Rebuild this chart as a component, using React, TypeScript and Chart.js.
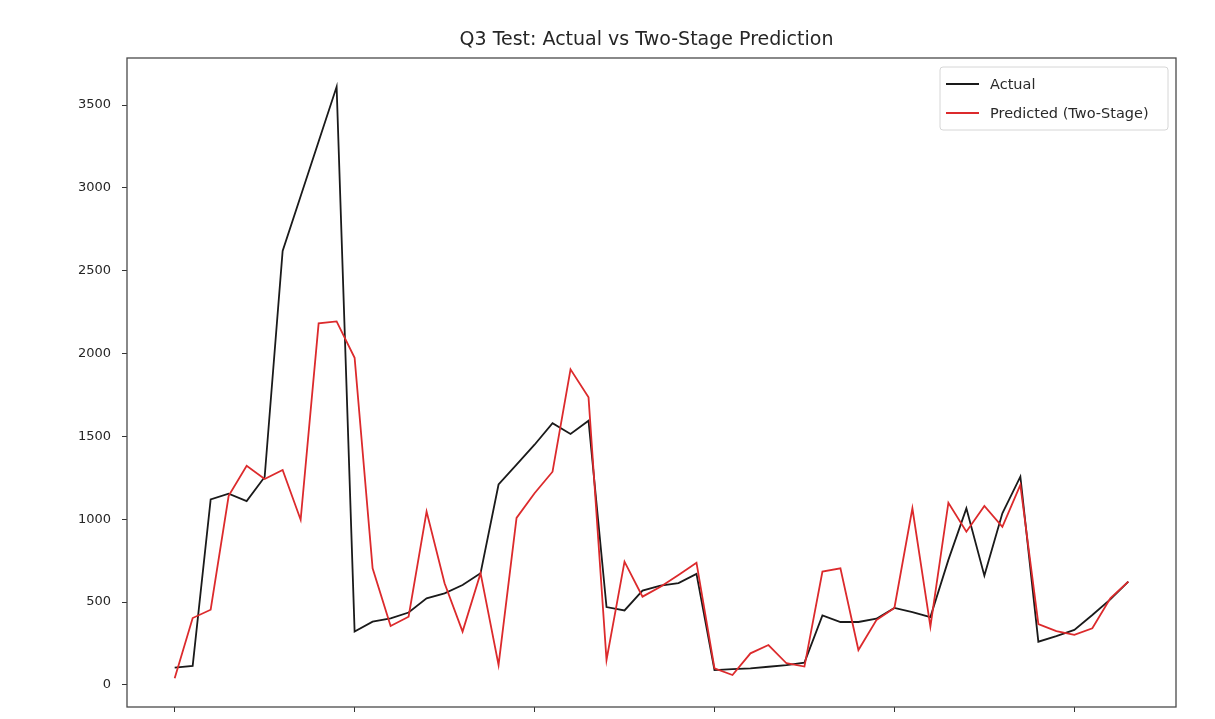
import React, { useEffect, useRef } from "react";
import { Chart, registerables } from "chart.js";

Chart.register(...registerables);

const TITLE = "Q3 Test: Actual vs Two-Stage Prediction";
const SERIES_NAMES = ["Actual", "Predicted (Two-Stage)"];

const indices = [
  0, 1, 2, 3, 4, 5, 6, 7, 8, 9, 10, 11, 12, 13, 14, 15, 16, 17, 18, 19, 20, 21, 22, 23, 24, 25, 26,
  27, 28, 29, 30, 31, 32, 33, 34, 35, 36, 37, 38, 39, 40, 41, 42, 43, 44, 45, 46, 47, 48, 49, 50, 51,
  52, 53,
];

const actual = [
  105, 115, 1120, 1155, 1110, 1255, 2620, 2950, 3280, 3610,
  322, 382, 402, 437, 523, 553, 603, 674, 1210, 1330,
  1450, 1580, 1515, 1595, 470, 450, 570, 600, 615, 670,
  90, 95, 100, 110, 120, 135, 420, 380, 380, 400,
  465, 440, 410, 755, 1066, 660, 1036, 1257, 261, 295,
  332, 422, 517, 624,
];

const predicted = [
  40, 404, 454, 1142, 1323, 1243, 1297, 997, 2182, 2194,
  1975, 704, 356, 412, 1046, 614, 322, 675, 121, 1008,
  1157, 1287, 1905, 1736, 151, 744, 533, 593, 664, 738,
  101, 60, 191, 241, 131, 111, 684, 704, 211, 392,
  465, 1066, 352, 1100, 925, 1080, 955, 1207, 368, 325,
  302, 342, 523, 624,
];

const xTicks = [0, 10, 20, 30, 40, 50];
const yTicks = [0, 500, 1000, 1500, 2000, 2500, 3000, 3500];

const COLORS = ["#1a1a1a", "#dc2a2c"];
const FONT = "'DejaVu Sans', sans-serif";

const framePlugin = {
  id: "frame",
  afterDatasetsDraw(chart: any) {
    const { ctx, chartArea: a } = chart;
    ctx.save();
    ctx.strokeStyle = "#4a4a4a";
    ctx.lineWidth = 1.3;
    ctx.strokeRect(a.left, a.top, a.right - a.left, a.bottom - a.top);
    ctx.restore();
  },
};

const titlePlugin = {
  id: "mplTitle",
  afterDraw(chart: any) {
    const { ctx, chartArea: a } = chart;
    ctx.save();
    ctx.fillStyle = "#262626";
    ctx.font = `19px ${FONT}`;
    ctx.textAlign = "center";
    ctx.textBaseline = "middle";
    ctx.fillText(TITLE, (a.left + a.right) / 2 - 5, 40);
    ctx.restore();
  },
};

const legendPlugin = {
  id: "mplLegend",
  afterDraw(chart: any) {
    const { ctx } = chart;
    const bx = 940, by = 67, bw = 228, bh = 63, r = 3;
    ctx.save();
    ctx.beginPath();
    ctx.moveTo(bx + r, by);
    ctx.lineTo(bx + bw - r, by);
    ctx.quadraticCurveTo(bx + bw, by, bx + bw, by + r);
    ctx.lineTo(bx + bw, by + bh - r);
    ctx.quadraticCurveTo(bx + bw, by + bh, bx + bw - r, by + bh);
    ctx.lineTo(bx + r, by + bh);
    ctx.quadraticCurveTo(bx, by + bh, bx, by + bh - r);
    ctx.lineTo(bx, by + r);
    ctx.quadraticCurveTo(bx, by, bx + r, by);
    ctx.closePath();
    ctx.fillStyle = "rgba(255,255,255,0.85)";
    ctx.fill();
    ctx.strokeStyle = "#d6d6d6";
    ctx.lineWidth = 1;
    ctx.stroke();
    const rows = [84, 113];
    chart.data.datasets.forEach((ds: any, i: number) => {
      const y = rows[i];
      ctx.beginPath();
      ctx.strokeStyle = ds.borderColor;
      ctx.lineWidth = 2.2;
      ctx.moveTo(946, y);
      ctx.lineTo(979, y);
      ctx.stroke();
      ctx.fillStyle = "#2a2a2a";
      ctx.font = `14.5px ${FONT}`;
      ctx.textAlign = "left";
      ctx.textBaseline = "middle";
      ctx.fillText(ds.label, 990, y + 1);
    });
    ctx.restore();
  },
};

export default function App() {
  const ref = useRef<HTMLCanvasElement | null>(null);

  useEffect(() => {
    if (!ref.current) return;
    const toPts = (vals: number[]) => indices.map((x, i) => ({ x, y: vals[i] }));
    const chart = new Chart(ref.current, {
      type: "line",
      data: {
        datasets: [
          {
            label: SERIES_NAMES[0],
            data: toPts(actual),
            borderColor: COLORS[0],
            backgroundColor: COLORS[0],
            borderWidth: 1.8,
            pointRadius: 0,
            tension: 0,
            order: 2,
          },
          {
            label: SERIES_NAMES[1],
            data: toPts(predicted),
            borderColor: COLORS[1],
            backgroundColor: COLORS[1],
            borderWidth: 1.8,
            pointRadius: 0,
            tension: 0,
            order: 1,
          },
        ],
      },
      options: {
        animation: false,
        responsive: false,
        devicePixelRatio: 1,
        layout: { padding: { left: 0, right: 39, top: 58, bottom: 0 } },
        plugins: {
          legend: { display: false },
          tooltip: { enabled: false },
          title: { display: false },
        },
        scales: {
          x: {
            type: "linear",
            min: -2.65,
            max: 55.65,
            afterBuildTicks(scale: any) {
              scale.ticks = xTicks.map((v) => ({ value: v }));
            },
            afterFit(scale: any) {
              scale.height = 12;
              scale.paddingLeft = 0;
              scale.paddingRight = 0;
            },
            border: { display: false },
            grid: { display: true, drawOnChartArea: false, drawTicks: true, tickLength: 5, color: "#333" },
            ticks: { callback: () => "", padding: 0 },
          },
          y: {
            type: "linear",
            min: -133,
            max: 3784,
            afterBuildTicks(scale: any) {
              scale.ticks = yTicks.map((v) => ({ value: v }));
            },
            afterFit(scale: any) {
              scale.width = 127;
              scale.paddingTop = 0;
              scale.paddingBottom = 0;
            },
            border: { display: false },
            grid: { display: true, drawOnChartArea: false, drawTicks: true, tickLength: 5, color: "#333" },
            ticks: {
              color: "#262626",
              font: { family: FONT, size: 13 },
              padding: 11,
              callback: (v: any) => String(v),
            },
          },
        },
      },
      plugins: [framePlugin, titlePlugin, legendPlugin],
    } as any);
    return () => chart.destroy();
  }, []);

  return (
    <div style={{ position: "absolute", left: 0, top: 0, width: 1215, height: 719, background: "#fff" }}>
      <canvas ref={ref} width={1215} height={719} style={{ display: "block", width: 1215, height: 719 }} />
    </div>
  );
}
